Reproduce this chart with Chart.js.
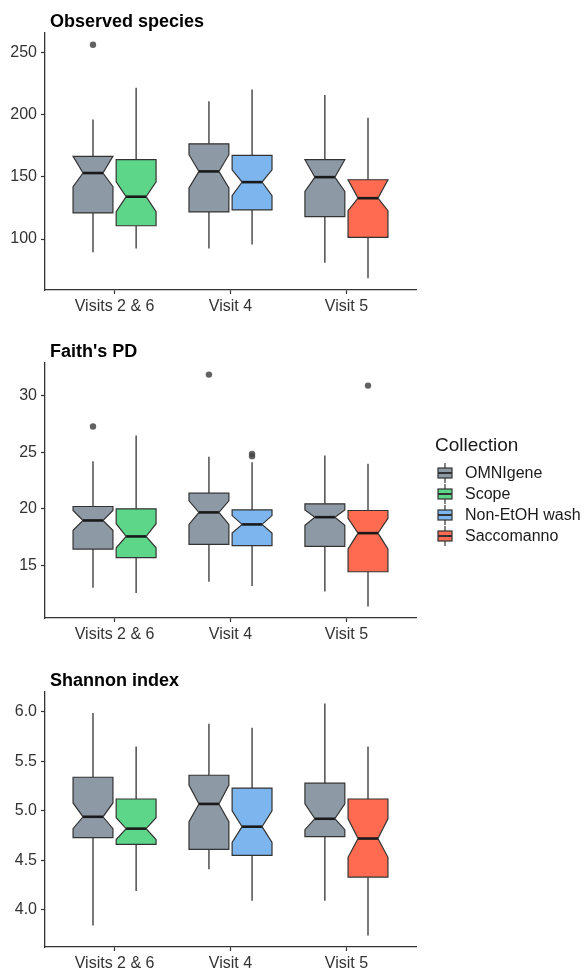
<!DOCTYPE html>
<html>
<head>
  <title>Alpha diversity by collection</title>
  <script src="https://cdn.jsdelivr.net/npm/chart.js"></script>
  <style>
    body { margin: 0; background: #fff; }
    .panel { position: absolute; left: 0; }
  </style>
</head>
<body>
  <canvas id="obsChart" class="panel" style="top:0px" width="586" height="320"></canvas>
  <canvas id="pdChart" class="panel" style="top:320px" width="586" height="325"></canvas>
  <canvas id="shChart" class="panel" style="top:645px" width="586" height="326"></canvas>

  <script>
    // categories
    const groups = ["Visits 2 & 6", "Visit 4", "Visit 5"];
    const collections = ["OMNIgene", "Scope", "Non-EtOH wash", "Saccomanno"];
    const collColors = ["#8e99a6", "#5ed68a", "#7db6ee", "#ff6b50"];

    // box order: V2&6 OMNIgene, V2&6 Scope, V4 OMNIgene, V4 Non-EtOH, V5 OMNIgene, V5 Saccomanno
    const boxGroup = [0, 0, 1, 1, 2, 2];
    const boxCollection = [0, 1, 0, 2, 0, 3];

    // Observed species
    const obsMin     = [89.5, 92.5, 92.5, 95.7, 80.9, 68.5];
    const obsQ1      = [121, 110.7, 121.8, 123.4, 118, 101.4];
    const obsNotchLo = [142, 122, 141, 134.9, 138.2, 122.8];
    const obsMed     = [153, 134, 154.3, 145.7, 149.7, 132.8];
    const obsNotchHi = [166.4, 146, 167.7, 155.6, 163.7, 147.6];
    const obsQ3      = [166.4, 163.7, 176.4, 167.2, 163.7, 147.6];
    const obsMax     = [196, 221.5, 210.7, 220, 215.6, 197.3];
    const obsOutBox  = [0];
    const obsOutVal  = [256];
    const obsTicks   = [100, 150, 200, 250];

    // Faith's PD
    const pdMin     = [13.03, 12.56, 13.56, 13.18, 12.7, 11.38];
    const pdQ1      = [16.44, 15.68, 16.85, 16.74, 16.68, 14.44];
    const pdNotchLo = [18.1, 16.56, 18.62, 17.85, 18.55, 16.45];
    const pdMed     = [18.97, 17.56, 19.68, 18.62, 19.26, 17.85];
    const pdNotchHi = [19.85, 18.68, 20.7, 19.4, 19.9, 19.15];
    const pdQ3      = [20.2, 20.0, 21.38, 19.9, 20.44, 19.85];
    const pdMax     = [24.2, 26.47, 24.6, 24.1, 24.7, 23.97];
    const pdOutBox  = [0, 2, 3, 3, 5];
    const pdOutVal  = [27.26, 31.85, 24.85, 24.65, 30.88];
    const pdTicks   = [15, 20, 25, 30];

    // Shannon index
    const shMin     = [3.84, 4.19, 4.41, 4.09, 4.09, 3.74];
    const shQ1      = [4.73, 4.66, 4.61, 4.55, 4.74, 4.33];
    const shNotchLo = [4.82, 4.71, 4.89, 4.68, 4.81, 4.53];
    const shMed     = [4.94, 4.82, 5.07, 4.84, 4.92, 4.72];
    const shNotchHi = [5.08, 4.93, 5.26, 5.0, 5.07, 4.92];
    const shQ3      = [5.34, 5.12, 5.36, 5.23, 5.28, 5.12];
    const shMax     = [5.99, 5.65, 5.88, 5.84, 6.085, 5.65];
    const shOutBox  = [];
    const shOutVal  = [];
    const shTicks   = [4.0, 4.5, 5.0, 5.5, 6.0];

    const FONT = "'Liberation Sans', Arial, sans-serif";
    const DODGE = 0.186;     // box centre offset from group centre (x units)
    const HALF = 0.172;      // half box width (x units)

    function boxX(i) {
      const side = boxCollection[i] === 0 ? -1 : 1;
      return boxGroup[i] + 1 + side * DODGE;
    }

    function drawKey(ctx, x, cy, color) {
      ctx.strokeStyle = "#333";
      ctx.lineWidth = 1.2;
      ctx.beginPath();
      ctx.moveTo(x + 8, cy - 10); ctx.lineTo(x + 8, cy + 10);
      ctx.stroke();
      ctx.fillStyle = color;
      ctx.fillRect(x + 1, cy - 5, 14, 10);
      ctx.strokeRect(x + 1, cy - 5, 14, 10);
      ctx.lineWidth = 2;
      ctx.beginPath();
      ctx.moveTo(x + 1, cy); ctx.lineTo(x + 15, cy);
      ctx.stroke();
    }

    // only colour the tick marks we asked for
    const tickColor = list => c => (c.tick && list.includes(c.tick.value)) ? '#333' : 'rgba(0,0,0,0)';

    function makePanel(canvasId, p) {
      const yMinData = Math.min(...p.min, ...p.outVal);
      const yMaxData = Math.max(...p.max, ...p.outVal);
      const pad = (yMaxData - yMinData) * 0.05;

      const boxPlugin = {
        id: 'boxes_' + canvasId,
        beforeDatasetsDraw(chart) {
          const ctx = chart.ctx, xs = chart.scales.x, ys = chart.scales.y;
          const hw = xs.getPixelForValue(HALF) - xs.getPixelForValue(0);
          ctx.save();
          for (let i = 0; i < boxGroup.length; i++) {
            const xc = xs.getPixelForValue(boxX(i));
            const xl = xc - hw, xr = xc + hw, nw = hw * 0.5;
            const y = v => ys.getPixelForValue(v);
            // whiskers
            ctx.strokeStyle = "#333";
            ctx.lineWidth = 1.3;
            ctx.beginPath();
            ctx.moveTo(xc, y(p.q3[i])); ctx.lineTo(xc, y(p.max[i]));
            ctx.moveTo(xc, y(p.q1[i])); ctx.lineTo(xc, y(p.min[i]));
            ctx.stroke();
            // notched box
            ctx.beginPath();
            ctx.moveTo(xl, y(p.q3[i]));
            ctx.lineTo(xr, y(p.q3[i]));
            ctx.lineTo(xr, y(p.nHi[i]));
            ctx.lineTo(xc + nw, y(p.med[i]));
            ctx.lineTo(xr, y(p.nLo[i]));
            ctx.lineTo(xr, y(p.q1[i]));
            ctx.lineTo(xl, y(p.q1[i]));
            ctx.lineTo(xl, y(p.nLo[i]));
            ctx.lineTo(xc - nw, y(p.med[i]));
            ctx.lineTo(xl, y(p.nHi[i]));
            ctx.closePath();
            ctx.fillStyle = collColors[boxCollection[i]];
            ctx.fill();
            ctx.lineWidth = 1.2;
            ctx.stroke();
            // median
            ctx.strokeStyle = "#1a1a1a";
            ctx.lineWidth = 2.6;
            ctx.beginPath();
            ctx.moveTo(xc - nw, y(p.med[i])); ctx.lineTo(xc + nw, y(p.med[i]));
            ctx.stroke();
          }
          ctx.restore();
        },
        afterDraw(chart) {
          const ctx = chart.ctx;
          ctx.save();
          ctx.fillStyle = "#000";
          ctx.font = "bold 18px " + FONT;
          ctx.textBaseline = "alphabetic";
          ctx.fillText(p.title, chart.chartArea.left + 5, chart.chartArea.top - 6);
          if (p.legend) {
            ctx.font = "19px " + FONT;
            ctx.fillStyle = "#1a1a1a";
            ctx.fillText("Collection", 435, 131);
            ctx.font = "16px " + FONT;
            ctx.textBaseline = "middle";
            collections.forEach((c, k) => {
              const cy = 153 + k * 21;
              drawKey(ctx, 437, cy, collColors[k]);
              ctx.fillStyle = "#1a1a1a";
              ctx.fillText(c, 465, cy + 1);
            });
          }
          ctx.restore();
        }
      };

      const H = document.getElementById(canvasId).height;

      return new Chart(document.getElementById(canvasId), {
        type: 'scatter',
        data: {
          datasets: [{
            data: p.outBox.map((b, k) => ({ x: boxX(b), y: p.outVal[k] })),
            pointRadius: 3.2,
            pointBackgroundColor: 'rgba(70,70,70,0.85)',
            pointBorderColor: 'rgba(70,70,70,0.85)',
            pointBorderWidth: 0
          }]
        },
        options: {
          responsive: false,
          animation: false,
          devicePixelRatio: 1,
          layout: { padding: { top: p.top, right: 170, left: 0, bottom: 0 } },
          plugins: { legend: { display: false }, tooltip: { enabled: false } },
          scales: {
            x: {
              type: 'linear',
              min: 0.4, max: 3.6,
              afterBuildTicks: s => { s.ticks = groups.map((g, k) => ({ value: k + 1 })); },
              afterFit: s => { s.height = H - p.bottom; },
              ticks: {
                callback: v => groups[Math.round(v) - 1],
                color: '#333', font: { size: 16, family: FONT }, padding: 3, maxRotation: 0
              },
              grid: { drawOnChartArea: false, tickLength: 4, color: tickColor([1, 2, 3]), tickWidth: 1.2 },
              border: { display: true, color: '#333', width: 1.3 }
            },
            y: {
              min: yMinData - pad, max: yMaxData + pad,
              afterBuildTicks: s => { s.ticks = p.ticks.map(v => ({ value: v })); },
              afterFit: s => { s.width = 45; },
              ticks: {
                callback: v => p.decimals ? v.toFixed(p.decimals) : String(v),
                color: '#333', font: { size: 16, family: FONT }, padding: 4
              },
              grid: { drawOnChartArea: false, tickLength: 4, color: tickColor(p.ticks), tickWidth: 1.2 },
              border: { display: true, color: '#333', width: 1.3 }
            }
          }
        },
        plugins: [boxPlugin]
      });
    }

    makePanel('obsChart', {
      title: 'Observed species', top: 33, bottom: 290, ticks: obsTicks, decimals: 0,
      min: obsMin, q1: obsQ1, nLo: obsNotchLo, med: obsMed, nHi: obsNotchHi, q3: obsQ3, max: obsMax,
      outBox: obsOutBox, outVal: obsOutVal
    });
    makePanel('pdChart', {
      title: "Faith's PD", top: 43, bottom: 298, ticks: pdTicks, decimals: 0, legend: true,
      min: pdMin, q1: pdQ1, nLo: pdNotchLo, med: pdMed, nHi: pdNotchHi, q3: pdQ3, max: pdMax,
      outBox: pdOutBox, outVal: pdOutVal
    });
    makePanel('shChart', {
      title: 'Shannon index', top: 47, bottom: 302, ticks: shTicks, decimals: 1,
      min: shMin, q1: shQ1, nLo: shNotchLo, med: shMed, nHi: shNotchHi, q3: shQ3, max: shMax,
      outBox: shOutBox, outVal: shOutVal
    });
  </script>
</body>
</html>
